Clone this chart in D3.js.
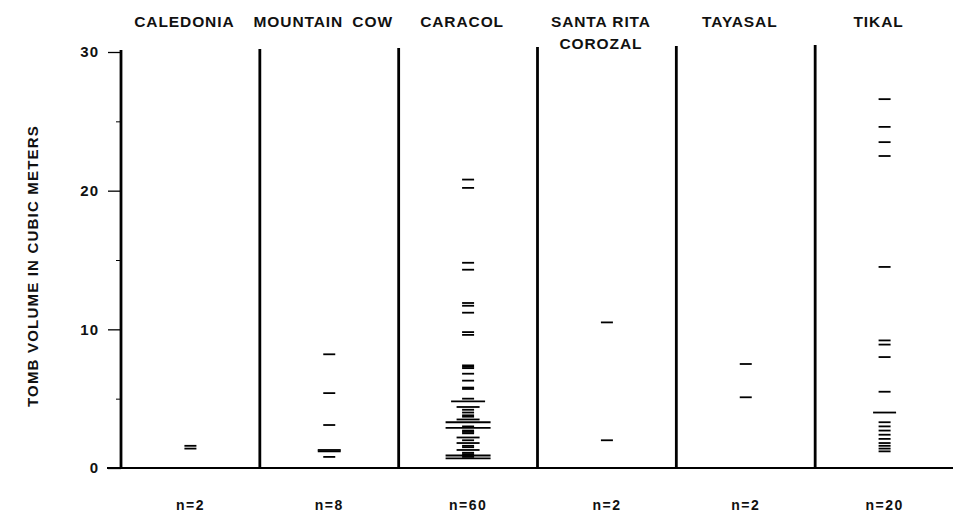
<!DOCTYPE html>
<html>
<head>
<meta charset="utf-8">
<script src="https://cdn.jsdelivr.net/npm/d3@7"></script>
<style>
  body { margin: 0; background: #fff; }
</style>
</head>
<body>
<div id="vis"></div>
<script>
// site columns and their header lines
const sites = ["CALEDONIA", "MOUNTAIN COW", "CARACOL", "SANTA RITA COROZAL", "TAYASAL", "TIKAL"];
const headers = [["CALEDONIA"], ["MOUNTAIN COW"], ["CARACOL"], ["SANTA RITA", "COROZAL"], ["TAYASAL"], ["TIKAL"]];

// tomb volumes (cubic meters)
const caledonia = [1.6, 1.4];
const mountainCow = [8.2, 5.4, 3.1, 1.3, 1.3, 1.2, 1.2, 0.8];
const caracol = [20.8, 20.2, 14.8, 14.3, 11.9, 11.7, 11.2, 9.8, 9.6, 7.4, 7.3, 7.2, 6.8, 6.3, 5.8, 5.7, 5.0,
  4.8, 4.8, 4.8, 4.4, 4.4, 4.2, 4.0, 3.8, 3.7, 3.5, 3.5, 3.3, 3.3, 3.3, 3.3, 3.0,
  2.9, 2.9, 2.9, 2.9, 2.7, 2.6, 2.5, 2.2, 2.2, 2.0, 1.8, 1.8, 1.6, 1.5, 1.3, 1.3, 1.1, 1.0,
  0.9, 0.9, 0.9, 0.9, 0.8, 0.7, 0.7, 0.7, 0.7];
const santaRita = [10.5, 2.0];
const tayasal = [7.5, 5.1];
const tikal = [26.6, 24.6, 23.5, 22.5, 14.5, 9.2, 8.9, 8.0, 5.5, 4.0, 4.0,
  3.3, 3.0, 2.7, 2.4, 2.1, 1.8, 1.6, 1.4, 1.2];

const yTicks = [0, 10, 20, 30];
const yMinorTicks = [5, 15, 25];
const yTitle = "TOMB VOLUME IN CUBIC METERS";

const columns = [caledonia, mountainCow, caracol, santaRita, tayasal, tikal];

const width = 953, height = 521;
const margin = {top: 52, right: 0, bottom: 53, left: 121};
const font = "'Liberation Sans', Arial, sans-serif";

const svg = d3.select("#vis")
  .append("svg")
    .attr("width", width)
    .attr("height", height)
    .attr("font-family", font)
    .attr("font-weight", "bold");

const x = d3.scaleBand()
    .domain(sites)
    .range([margin.left, width + 1])
    .padding(0);

const y = d3.scaleLinear()
    .domain([0, 30])
    .range([height - margin.bottom, margin.top]);

// y axis: major ticks with labels, minor ticks without
const yAxis = g => g
    .attr("transform", `translate(${margin.left},0)`)
    .call(d3.axisLeft(y).tickValues(yTicks).tickSize(13).tickPadding(9))
    .call(g => g.select(".domain").remove())
    .call(g => g.selectAll(".tick line").attr("stroke-width", 1.3))
    .call(g => g.selectAll(".tick text")
        .attr("font-family", font)
        .attr("font-weight", "bold")
        .attr("font-size", 15)
        .attr("letter-spacing", 1)
        .attr("fill", "#111"));

svg.append("g").call(yAxis);

svg.append("g")
    .attr("transform", `translate(${margin.left},0)`)
    .call(d3.axisLeft(y).tickValues(yMinorTicks).tickSize(5).tickFormat(""))
    .call(g => g.select(".domain").remove());

// y title
svg.append("text")
    .attr("transform", `translate(38,${(y(0) + y(30)) / 2 + 6}) rotate(-90)`)
    .attr("text-anchor", "middle")
    .attr("font-size", 15)
    .attr("letter-spacing", 1.2)
    .attr("fill", "#111")
    .text(yTitle);

// baseline
svg.append("line")
    .attr("x1", margin.left - 14)
    .attr("x2", width)
    .attr("y1", y(0))
    .attr("y2", y(0))
    .attr("stroke", "#000")
    .attr("stroke-width", 2);

// vertical axis and separators between the sites
svg.append("g")
  .selectAll("line")
  .data(sites)
  .join("line")
    .attr("x1", d => x(d))
    .attr("x2", d => x(d))
    .attr("y1", (d, i) => y(30) - 2 - i)
    .attr("y2", y(0))
    .attr("stroke", "#000")
    .attr("stroke-width", 2.8);

// column headers
const head = svg.append("g")
    .attr("font-size", 15.5)
    .attr("letter-spacing", 0.9)
    .attr("fill", "#111")
    .attr("text-anchor", "middle");

headers.forEach((lines, i) => {
  lines.forEach((t, j) => {
    head.append("text")
        .attr("x", x(sites[i]) + x.bandwidth() / 2 - 6)
        .attr("y", 27 + j * 22)
        .attr("word-spacing", i === 1 ? 4 : 0)
        .text(t);
  });
});

// tomb marks: equal volumes share one longer dash
const dashes = svg.append("g");
columns.forEach((vals, i) => {
  const groups = d3.rollups(vals, v => v.length, d => d);
  const cx = x(sites[i]) + x.bandwidth() / 2;
  dashes.append("g")
    .selectAll("line")
    .data(groups)
    .join("line")
      .attr("x1", d => cx - (12 + (d[1] - 1) * 11) / 2)
      .attr("x2", d => cx + (12 + (d[1] - 1) * 11) / 2)
      .attr("y1", d => y(d[0]))
      .attr("y2", d => y(d[0]))
      .attr("stroke", "#000")
      .attr("stroke-width", 1.8);
});

// sample sizes
svg.append("g")
    .attr("font-size", 14)
    .attr("letter-spacing", 1.5)
    .attr("fill", "#111")
    .attr("text-anchor", "middle")
  .selectAll("text")
  .data(columns)
  .join("text")
    .attr("x", (d, i) => x(sites[i]) + x.bandwidth() / 2)
    .attr("y", height - 11)
    .text(d => "n=" + d.length);
</script>
</body>
</html>
